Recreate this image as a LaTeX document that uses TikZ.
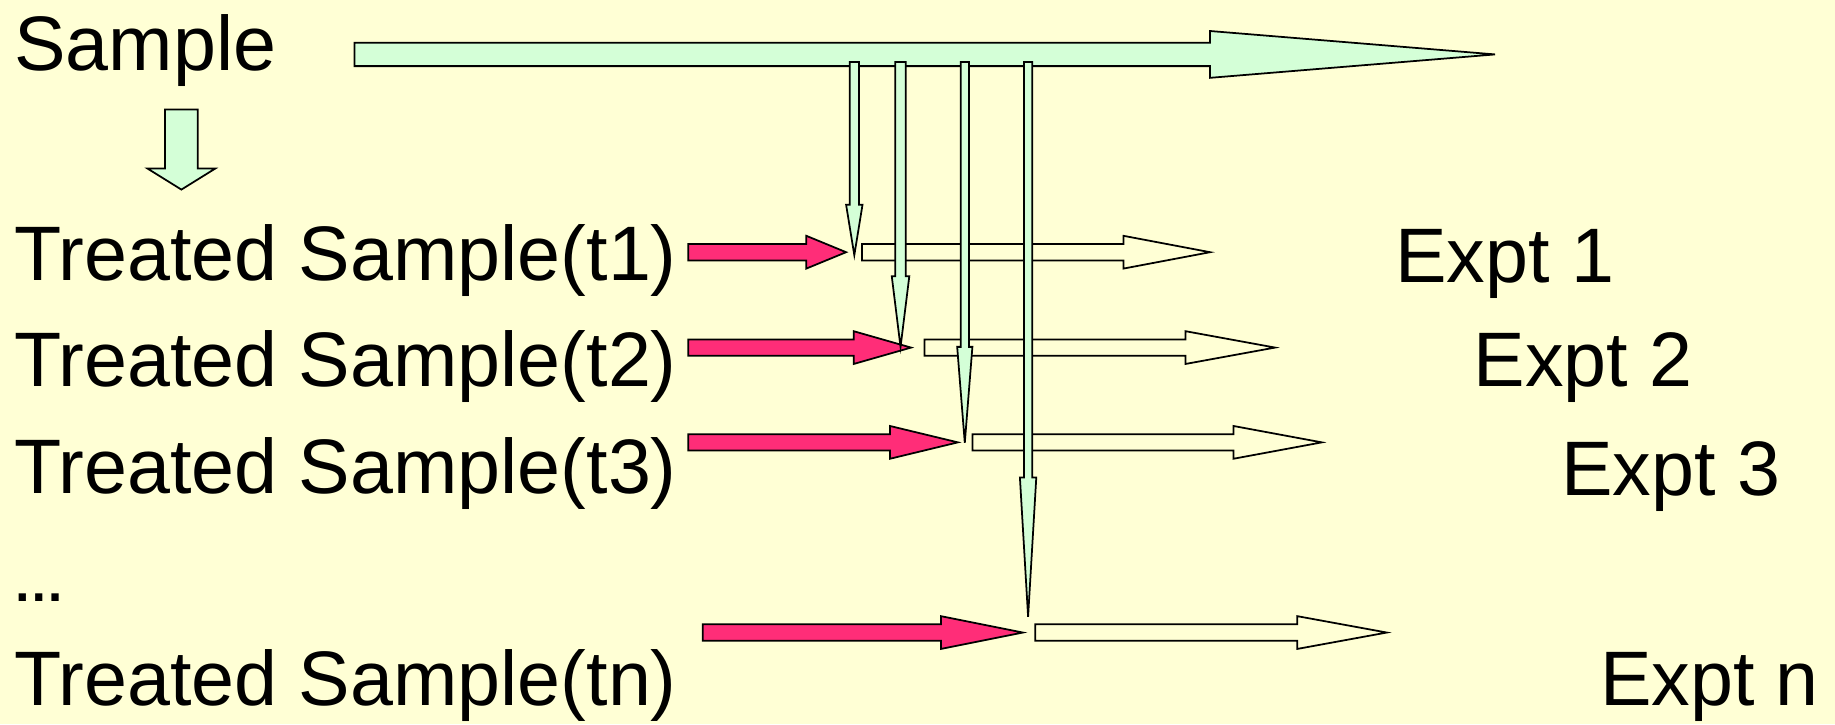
\documentclass[tikz,border=0pt]{standalone}
\usepackage{fontspec}
\setmainfont{Liberation Sans}
\usetikzlibrary{calc}
\definecolor{bgyellow}{RGB}{255,255,213}
\definecolor{mint}{RGB}{212,255,215}
\definecolor{hotpink}{RGB}{255,45,120}
\tikzset{
  txt/.style={font=\fontsize{66}{70}\selectfont, inner sep=0pt, anchor=base west},
  mintarrow/.style={draw=black, line width=1.5pt, fill=mint},
  pinkarrow/.style={draw=black, line width=1.5pt, fill=hotpink},
  hollowarrow/.style={draw=black, line width=1.5pt, fill=bgyellow},
}
% 块箭头: 样式, 起点, 终点, 杆半宽, 头半宽, 头长
\newcommand{\rightblock}[6]{%
  \draw[#1] ($(#2)+(0,#4)$) -- ($(#3)+(-#6,#4)$) -- ($(#3)+(-#6,#5)$) -- (#3)
    -- ($(#3)+(-#6,-#5)$) -- ($(#3)+(-#6,-#4)$) -- ($(#2)+(0,-#4)$) -- cycle;}
\newcommand{\downblock}[6]{%
  \draw[#1] ($(#2)+(-#4,0)$) -- ($(#3)+(-#4,-#6)$) -- ($(#3)+(-#5,-#6)$) -- (#3)
    -- ($(#3)+(#5,-#6)$) -- ($(#3)+(#4,-#6)$) -- ($(#2)+(#4,0)$) -- cycle;}
\begin{document}
\begin{tikzpicture}[x=1pt,y=-1pt]
  % 背景
  \fill[bgyellow] (0,0) rectangle (1568,618.7);
  \useasboundingbox (0,0) rectangle (1568,618.7);

  % 文字
  \node[txt] (sample) at (12,60) {Sample};
  \node[txt] (ts1) at (12,240) {Treated Sample(t1)};
  \node[txt] (ts2) at (12,330) {Treated Sample(t2)};
  \node[txt] (ts3) at (12,422) {Treated Sample(t3)};
  \node[txt, font=\fontsize{44}{46}\selectfont\bfseries] (dots) at (11,514) {…};
  \node[txt] (tsn) at (12,603) {Treated Sample(tn)};
  \node[txt] (ex1) at (1192,241) {Expt 1};
  \node[txt] (ex2) at (1259,330) {Expt 2};
  \node[txt] (ex3) at (1334,423) {Expt 3};
  \node[txt] (exn) at (1367,603) {Expt n};

  % 箭头端点
  \coordinate (main0) at (303,46.5);    \coordinate (main1) at (1277.5,46.5);
  \coordinate (down0) at (155,93.5);    \coordinate (down1) at (155,162);
  \coordinate (red0a) at (588,215.5);   \coordinate (red1a) at (723,215.5);
  \coordinate (red0b) at (588,297);     \coordinate (red1b) at (778.5,297);
  \coordinate (red0c) at (588,378);     \coordinate (red1c) at (818.5,378);
  \coordinate (red0n) at (600.5,540.5); \coordinate (red1n) at (874,540.5);
  \coordinate (out0a) at (736.5,215.5); \coordinate (out1a) at (1034,215.5);
  \coordinate (out0b) at (790,297);     \coordinate (out1b) at (1089.5,297);
  \coordinate (out0c) at (831,378);     \coordinate (out1c) at (1129.5,378);
  \coordinate (out0n) at (884.5,540.5); \coordinate (out1n) at (1185,540.5);
  \coordinate (tap0a) at (730,53);      \coordinate (tap1a) at (730,218);
  \coordinate (tap0b) at (769.5,53);    \coordinate (tap1b) at (769.5,296.5);
  \coordinate (tap0c) at (824.4,53);    \coordinate (tap1c) at (824.4,378.4);
  \coordinate (tap0n) at (878.5,53);    \coordinate (tap1n) at (878.5,527);

  % 主箭头
  \rightblock{mintarrow}{main0}{main1}{10}{20}{243.5}
  \downblock{mintarrow}{down0}{down1}{14}{29}{18}

  % 空心箭头
  \rightblock{hollowarrow}{out0a}{out1a}{7}{14}{74}
  \rightblock{hollowarrow}{out0b}{out1b}{7}{14}{76.5}
  \rightblock{hollowarrow}{out0c}{out1c}{7}{14}{75.5}
  \rightblock{hollowarrow}{out0n}{out1n}{7}{14}{76.5}

  % 红箭头
  \rightblock{pinkarrow}{red0a}{red1a}{7}{14}{34}
  \rightblock{pinkarrow}{red0b}{red1b}{7}{14}{49}
  \rightblock{pinkarrow}{red0c}{red1c}{7}{14}{58}
  \rightblock{pinkarrow}{red0n}{red1n}{7}{14}{70}

  % 取样箭头
  \downblock{mintarrow}{tap0a}{tap1a}{4}{7}{43}
  \downblock{mintarrow}{tap0b}{tap1b}{4.5}{7.5}{60.5}
  \downblock{mintarrow}{tap0c}{tap1c}{3.5}{6.5}{82}
  \downblock{mintarrow}{tap0n}{tap1n}{3.5}{7}{119}
\end{tikzpicture}
\end{document}
